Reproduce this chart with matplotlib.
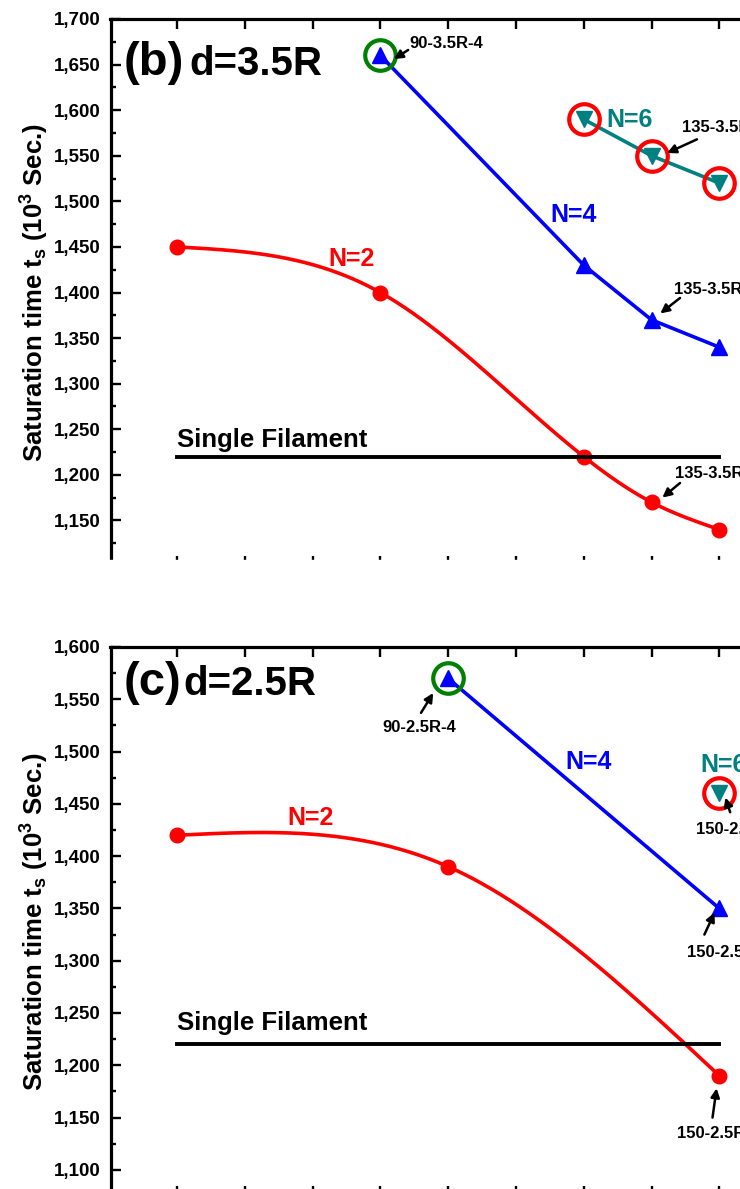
import matplotlib
matplotlib.use("Agg")
import matplotlib.pyplot as plt
from matplotlib.patches import Rectangle
from matplotlib.ticker import MultipleLocator, FuncFormatter
import numpy as np

plt.rcParams['font.family'] = ['Liberation Sans', 'DejaVu Sans']
plt.rcParams['font.weight'] = 'bold'
plt.rcParams['mathtext.fontset'] = 'custom'
plt.rcParams['mathtext.bf'] = 'Liberation Sans:bold'
plt.rcParams['mathtext.rm'] = 'Liberation Sans:bold'
plt.rcParams['mathtext.default'] = 'bf'

# panel (b) d=3.5R
b_x2 = [0, 3, 6, 7, 8]
b_y2 = [1450, 1400, 1220, 1170, 1140]
b_x4 = [3, 6, 7, 8]
b_y4 = [1660, 1430, 1370, 1340]
b_x6 = [6, 7, 8]
b_y6 = [1590, 1550, 1520]
b_single = 1220

# panel (c) d=2.5R
c_x2 = [0, 4, 8]
c_y2 = [1420, 1390, 1190]
c_x4 = [4, 8]
c_y4 = [1570, 1350]
c_x6 = [8]
c_y6 = [1460]
c_single = 1220

RED, BLUE, TEAL, GREEN = '#ff0000', '#0000ff', '#008080', '#008000'
ANN = 12  # size of the small point labels


def natural_spline(x, y, xs):
    x = np.asarray(x, float); y = np.asarray(y, float)
    n = len(x); h = np.diff(x)
    A = np.zeros((n, n)); r = np.zeros(n)
    A[0, 0] = A[-1, -1] = 1
    for i in range(1, n - 1):
        A[i, i - 1] = h[i - 1]
        A[i, i] = 2 * (h[i - 1] + h[i])
        A[i, i + 1] = h[i]
        r[i] = 6 * ((y[i + 1] - y[i]) / h[i] - (y[i] - y[i - 1]) / h[i - 1])
    M = np.linalg.solve(A, r)
    out = []
    for v in xs:
        i = min(max(np.searchsorted(x, v) - 1, 0), n - 2)
        hi = h[i]; a = x[i + 1] - v; b = v - x[i]
        out.append(M[i] * a**3 / (6 * hi) + M[i + 1] * b**3 / (6 * hi)
                   + (y[i] / hi - M[i] * hi / 6) * a + (y[i + 1] / hi - M[i + 1] * hi / 6) * b)
    return np.array(out)


fig = plt.figure(figsize=(7.4, 11.89), dpi=100)
W, H = 740.0, 1189.0
left, width = 110.5 / W, 676.6 / W
axb = fig.add_axes([left, (H - 566) / H, width, 547 / H])
axc = fig.add_axes([left, (H - 1196) / H, width, 549 / H])


def style(ax, ylo, yhi):
    ax.set_xlim(-0.98, 9)
    ax.set_ylim(ylo, yhi)
    ax.xaxis.set_major_locator(MultipleLocator(1))
    ax.yaxis.set_major_locator(MultipleLocator(50))
    ax.yaxis.set_minor_locator(MultipleLocator(25))
    ax.yaxis.set_major_formatter(FuncFormatter(lambda v, p: f'{v:,.0f}'))
    ax.tick_params(which='both', direction='in', top=True, right=True, width=1.7)
    ax.tick_params(which='major', length=7, labelsize=13.5, pad=7)
    ax.tick_params(which='minor', length=3.5)
    ax.tick_params(axis='x', labelbottom=False)
    for s in ax.spines.values():
        s.set_linewidth(2.3)
    ax.set_ylabel(r'Saturation time t$_\mathbf{s}$ (10$^\mathbf{3}$ Sec.)',
                  fontsize=18.5, fontweight='bold', labelpad=2)


def arrow(ax, tail, tip):
    ax.annotate('', xy=tip, xytext=tail,
                arrowprops=dict(arrowstyle='-|>', color='k', lw=1.8,
                                mutation_scale=13, shrinkA=0, shrinkB=0))


def draw(ax, x2, y2, x4, y4, x6, y6, single):
    xs = np.linspace(x2[0], x2[-1], 300)
    ax.plot(xs, natural_spline(x2, y2, xs), color=RED, lw=2.6)
    ax.plot(x2, y2, 'o', color=RED, ms=10.5)
    ax.plot(x4, y4, '-^', color=BLUE, lw=2.6, ms=11)
    ax.plot(x6, y6, '-v', color=TEAL, lw=2.6, ms=11)
    ax.plot(x6, y6, 'o', mfc='none', mec=RED, ms=22, mew=3)
    ax.plot(x4[:1], y4[:1], 'o', mfc='none', mec=GREEN, ms=22, mew=3)
    ax.plot([x2[0], x2[-1]], [single, single], color='k', lw=2.8)


style(axb, 1100, 1700)
draw(axb, b_x2, b_y2, b_x4, b_y4, b_x6, b_y6, b_single)
axb.text(0.019, 0.898, '(b)', transform=axb.transAxes, fontsize=34, fontweight='bold', va='baseline')
axb.text(0.116, 0.898, 'd=3.5R', transform=axb.transAxes, fontsize=29, fontweight='bold', va='baseline')
axb.text(2.58, 1437, 'N=2', color=RED, fontsize=18, ha='center', va='center')
axb.text(5.85, 1485, 'N=4', color=BLUE, fontsize=18, ha='center', va='center')
axb.text(6.67, 1589, 'N=6', color=TEAL, fontsize=18, ha='center', va='center')
axb.text(0, 1238, 'Single Filament', fontsize=18.5, ha='left', va='center')
axb.text(3.43, 1673, '90-3.5R-4', fontsize=ANN, ha='left', va='center')
arrow(axb, (3.41, 1666), (3.2, 1656))
axb.text(7.45, 1581, '135-3.5R-6', fontsize=ANN, ha='left', va='center')
arrow(axb, (7.67, 1568), (7.23, 1553))
axb.text(7.33, 1403, '135-3.5R-4', fontsize=ANN, ha='left', va='center')
arrow(axb, (7.42, 1394), (7.13, 1377))
axb.text(7.35, 1201, '135-3.5R-2', fontsize=ANN, ha='left', va='center')
arrow(axb, (7.42, 1191), (7.16, 1175))

style(axc, 1075, 1600)
draw(axc, c_x2, c_y2, c_x4, c_y4, c_x6, c_y6, c_single)
axc.text(0.019, 0.913, '(c)', transform=axc.transAxes, fontsize=34, fontweight='bold', va='baseline')
axc.text(0.108, 0.913, 'd=2.5R', transform=axc.transAxes, fontsize=29, fontweight='bold', va='baseline')
axc.text(1.97, 1436, 'N=2', color=RED, fontsize=18, ha='center', va='center')
axc.text(6.07, 1490, 'N=4', color=BLUE, fontsize=18, ha='center', va='center')
axc.text(7.72, 1487, 'N=6', color=TEAL, fontsize=18, ha='left', va='center')
axc.text(0, 1240, 'Single Filament', fontsize=18.5, ha='left', va='center')
axc.text(3.58, 1523, '90-2.5R-4', fontsize=ANN, ha='center', va='center')
arrow(axc, (3.6, 1537), (3.78, 1556))
axc.text(7.65, 1425, '150-2.5R-6', fontsize=ANN, ha='left', va='center')
arrow(axc, (8.16, 1442), (8.09, 1456))
axc.text(7.53, 1308, '150-2.5R-4', fontsize=ANN, ha='left', va='center')
arrow(axc, (7.78, 1325), (7.93, 1346))
axc.text(7.38, 1135, '150-2.5R-2', fontsize=ANN, ha='left', va='center')
arrow(axc, (7.9, 1150), (7.96, 1178))

# white band where the two panels were cut apart
fig.add_artist(Rectangle((0, (H - 636) / H), 1, 76 / H, transform=fig.transFigure,
                         color='white', zorder=10))

fig.savefig('out.png', dpi=100)
